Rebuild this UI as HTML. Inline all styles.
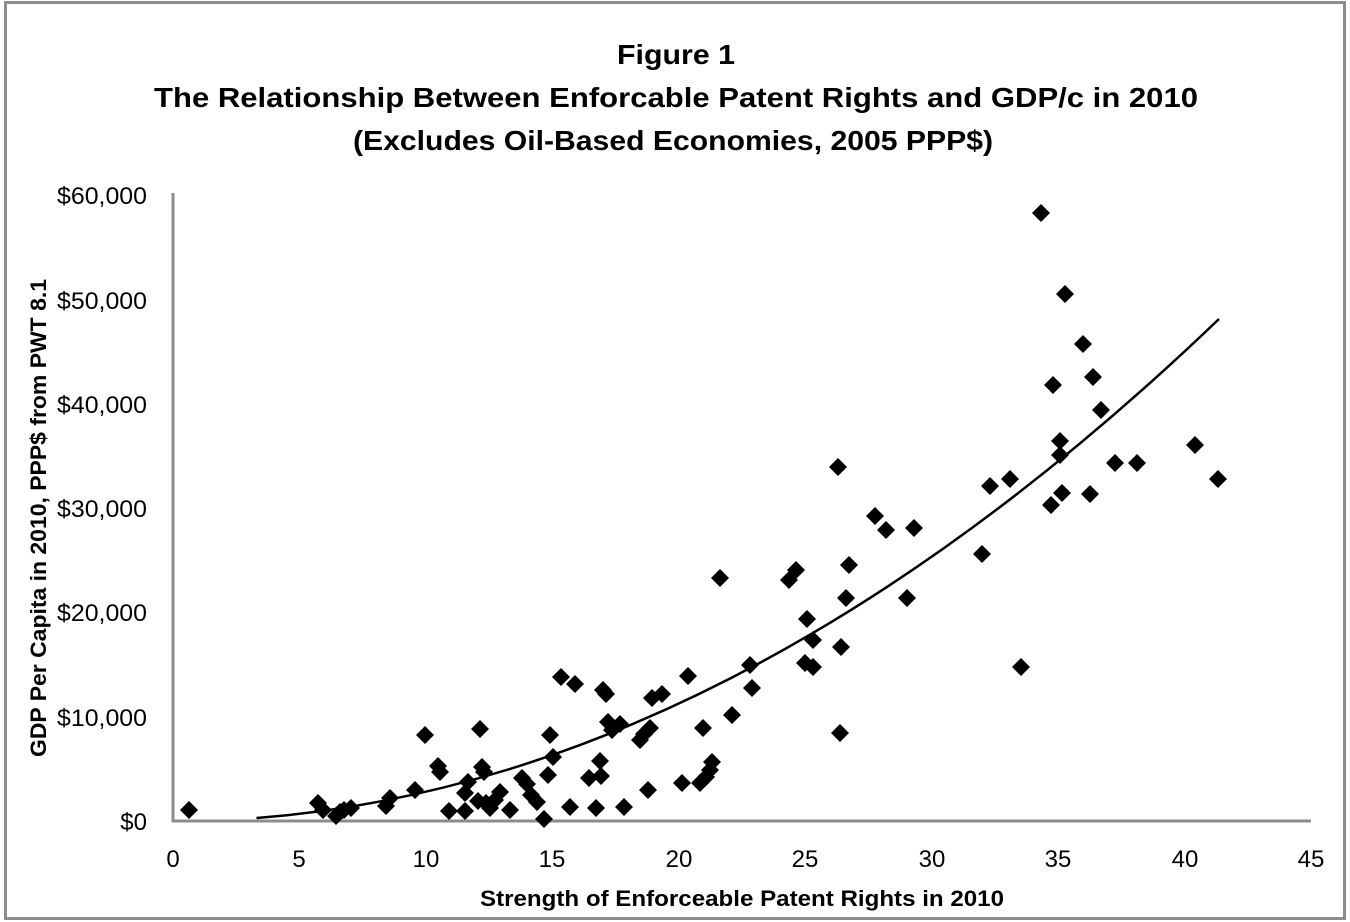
<!DOCTYPE html>
<html><head><meta charset="utf-8"><style>
html,body{margin:0;padding:0;background:#fff;}
svg{display:block;}
text{font-family:"Liberation Sans",sans-serif;fill:#000;}
</style></head><body>
<svg width="1350" height="922" viewBox="0 0 1350 922" xmlns="http://www.w3.org/2000/svg">
<rect x="0" y="0" width="1350" height="922" fill="#fff"/>
<rect x="5.5" y="2.5" width="1339" height="916" fill="none" stroke="#8c8c8c" stroke-width="3"/>
<g font-weight="bold" font-size="28" text-anchor="middle">
<text x="676" y="64" textLength="118" lengthAdjust="spacingAndGlyphs">Figure 1</text>
<text x="676" y="107" textLength="1044" lengthAdjust="spacingAndGlyphs">The Relationship Between Enforcable Patent Rights and GDP/c in 2010</text>
<text x="673" y="150" textLength="640" lengthAdjust="spacingAndGlyphs">(Excludes Oil-Based Economies, 2005 PPP$)</text>
</g>
<line x1="173" y1="193" x2="173" y2="822" stroke="#8c8c8c" stroke-width="3"/>
<line x1="172" y1="821" x2="1311" y2="821" stroke="#8c8c8c" stroke-width="3"/>
<g font-size="24" text-anchor="end">
<text x="147" y="830">$0</text>
<text x="147" y="726" textLength="90" lengthAdjust="spacingAndGlyphs">$10,000</text>
<text x="147" y="621" textLength="90" lengthAdjust="spacingAndGlyphs">$20,000</text>
<text x="147" y="517" textLength="90" lengthAdjust="spacingAndGlyphs">$30,000</text>
<text x="147" y="413" textLength="90" lengthAdjust="spacingAndGlyphs">$40,000</text>
<text x="147" y="309" textLength="90" lengthAdjust="spacingAndGlyphs">$50,000</text>
<text x="147" y="204" textLength="90" lengthAdjust="spacingAndGlyphs">$60,000</text>
</g>
<g font-size="24" text-anchor="middle">
<text x="173" y="867">0</text><text x="299" y="867">5</text><text x="426" y="867">10</text>
<text x="552" y="867">15</text><text x="679" y="867">20</text><text x="805" y="867">25</text>
<text x="932" y="867">30</text><text x="1058" y="867">35</text><text x="1185" y="867">40</text>
<text x="1311" y="867">45</text>
</g>
<text x="742" y="906" font-size="22" font-weight="bold" text-anchor="middle" textLength="524" lengthAdjust="spacingAndGlyphs">Strength of Enforceable Patent Rights in 2010</text>
<text transform="translate(46,518) rotate(-90)" font-size="22" font-weight="bold" text-anchor="middle" textLength="478" lengthAdjust="spacingAndGlyphs">GDP Per Capita in 2010, PPP$ from PWT 8.1</text>
<defs><path id="d" d="M0,-9 L9,0 L0,9 L-9,0Z" fill="#000"/></defs>
<g>
<use href="#d" x="189" y="810"/><use href="#d" x="318" y="803"/><use href="#d" x="323" y="810"/><use href="#d" x="336" y="816"/><use href="#d" x="340" y="812"/><use href="#d" x="344" y="810"/><use href="#d" x="351" y="808"/><use href="#d" x="386" y="806"/><use href="#d" x="390" y="798"/><use href="#d" x="415" y="790"/><use href="#d" x="425" y="735"/><use href="#d" x="438" y="766"/><use href="#d" x="440" y="772"/><use href="#d" x="449" y="811"/><use href="#d" x="465" y="811"/><use href="#d" x="465" y="793"/><use href="#d" x="468" y="782"/><use href="#d" x="478" y="801"/><use href="#d" x="480" y="729"/><use href="#d" x="482" y="767"/><use href="#d" x="484" y="772"/><use href="#d" x="486" y="803"/><use href="#d" x="490" y="808"/><use href="#d" x="495" y="800"/><use href="#d" x="500" y="792"/><use href="#d" x="510" y="810"/><use href="#d" x="522" y="778"/><use href="#d" x="527" y="784"/><use href="#d" x="531" y="795"/><use href="#d" x="537" y="802"/><use href="#d" x="544" y="819"/><use href="#d" x="550" y="735"/><use href="#d" x="548" y="775"/><use href="#d" x="553" y="757"/><use href="#d" x="561" y="677"/><use href="#d" x="570" y="807"/><use href="#d" x="575" y="684"/><use href="#d" x="589" y="778"/><use href="#d" x="596" y="808"/><use href="#d" x="600" y="761"/><use href="#d" x="601" y="776"/><use href="#d" x="603" y="690"/><use href="#d" x="606" y="694"/><use href="#d" x="608" y="722"/><use href="#d" x="612" y="730"/><use href="#d" x="620" y="724"/><use href="#d" x="624" y="807"/><use href="#d" x="640" y="740"/><use href="#d" x="644" y="734"/><use href="#d" x="648" y="790"/><use href="#d" x="650" y="728"/><use href="#d" x="652" y="698"/><use href="#d" x="662" y="694"/><use href="#d" x="682" y="783"/><use href="#d" x="688" y="676"/><use href="#d" x="700" y="783"/><use href="#d" x="703" y="728"/><use href="#d" x="706" y="777"/><use href="#d" x="710" y="770"/><use href="#d" x="712" y="762"/><use href="#d" x="720" y="578"/><use href="#d" x="732" y="715"/><use href="#d" x="750" y="665"/><use href="#d" x="752" y="688"/><use href="#d" x="789" y="580"/><use href="#d" x="796" y="570"/><use href="#d" x="807" y="619"/><use href="#d" x="805" y="663"/><use href="#d" x="813" y="667"/><use href="#d" x="813" y="640"/><use href="#d" x="838" y="467"/><use href="#d" x="840" y="733"/><use href="#d" x="849" y="565"/><use href="#d" x="841" y="647"/><use href="#d" x="846" y="598"/><use href="#d" x="875" y="516"/><use href="#d" x="886" y="530"/><use href="#d" x="914" y="528"/><use href="#d" x="907" y="598"/><use href="#d" x="982" y="554"/><use href="#d" x="990" y="486"/><use href="#d" x="1010" y="479"/><use href="#d" x="1021" y="667"/><use href="#d" x="1041" y="213"/><use href="#d" x="1051" y="505"/><use href="#d" x="1053" y="385"/><use href="#d" x="1060" y="441"/><use href="#d" x="1060" y="455"/><use href="#d" x="1062" y="493"/><use href="#d" x="1065" y="294"/><use href="#d" x="1083" y="344"/><use href="#d" x="1090" y="494"/><use href="#d" x="1093" y="377"/><use href="#d" x="1101" y="410"/><use href="#d" x="1115" y="463"/><use href="#d" x="1137" y="463"/><use href="#d" x="1195" y="445"/><use href="#d" x="1218" y="479"/>
</g>
<path d="M256.5,818 Q737,781 1219,319" fill="none" stroke="#000" stroke-width="2.5"/>
</svg>
</body></html>
